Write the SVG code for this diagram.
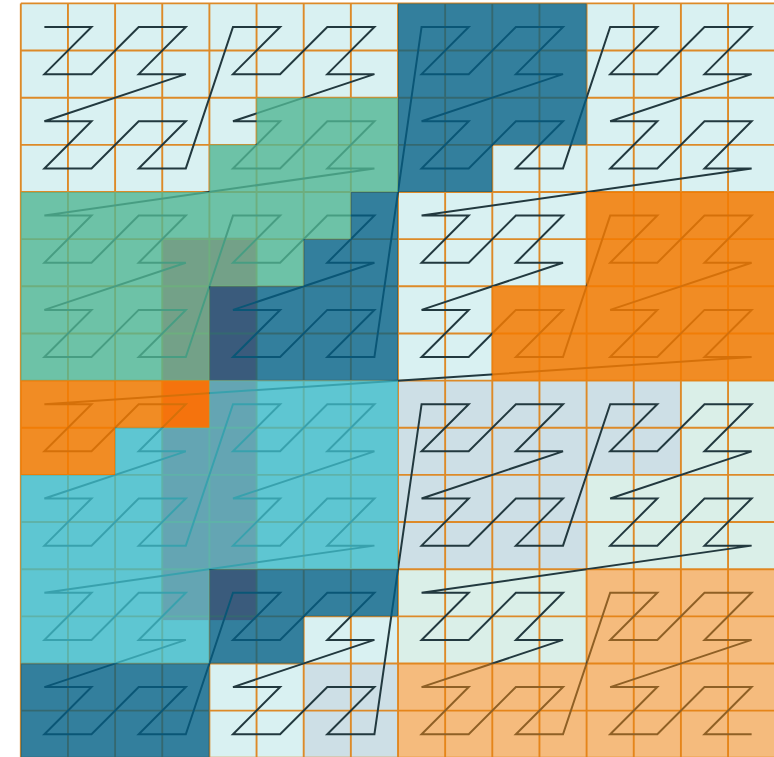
<svg xmlns="http://www.w3.org/2000/svg" width="774" height="757" viewBox="0 0 774 757">
<style>
.gl{fill:none;stroke:#dd8a28;stroke-width:1.9px;vector-effect:non-scaling-stroke}
.zc{fill:none;stroke:#22393f;stroke-width:2px;vector-effect:non-scaling-stroke}
.ov{stroke:none}
</style>
<rect width="774" height="757" fill="#ffffff"/>
<g id="plan" transform="translate(20.8,3.4) scale(47.15)">
<g id="base-ranges">
<rect id="range-light" width="16" height="16" fill="#d9f1f2"/>
<path id="range-grayblue" fill="#cddfe6" d="M6,14H8V16H6Z M8,8H14V10H12V12H8Z"/>
<path id="range-mint" fill="#daefe8" d="M14,8H16V12H12V10H14Z M8,12H12V14H8Z"/>
<path id="range-white" fill="#ffffff" d="M12,12H16V16H8V14H12Z"/>
</g>
<rect id="query" x="3" y="4.97" width="2" height="8.11" fill="#f84e5a"/>
<path id="grid" class="gl" d="M0,0V16M1,0V16M2,0V16M3,0V16M4,0V16M5,0V16M6,0V16M7,0V16M8,0V16M9,0V16M10,0V16M11,0V16M12,0V16M13,0V16M14,0V16M15,0V16M16,0V16M0,0H16M0,1H16M0,2H16M0,3H16M0,4H16M0,5H16M0,6H16M0,7H16M0,8H16M0,9H16M0,10H16M0,11H16M0,12H16M0,13H16M0,14H16M0,15H16M0,16H16"/>
<polyline id="zcurve" class="zc" transform="translate(0.5,0.5)" points="0,0 1,0 0,1 1,1 2,0 3,0 2,1 3,1 0,2 1,2 0,3 1,3 2,2 3,2 2,3 3,3 4,0 5,0 4,1 5,1 6,0 7,0 6,1 7,1 4,2 5,2 4,3 5,3 6,2 7,2 6,3 7,3 0,4 1,4 0,5 1,5 2,4 3,4 2,5 3,5 0,6 1,6 0,7 1,7 2,6 3,6 2,7 3,7 4,4 5,4 4,5 5,5 6,4 7,4 6,5 7,5 4,6 5,6 4,7 5,7 6,6 7,6 6,7 7,7 8,0 9,0 8,1 9,1 10,0 11,0 10,1 11,1 8,2 9,2 8,3 9,3 10,2 11,2 10,3 11,3 12,0 13,0 12,1 13,1 14,0 15,0 14,1 15,1 12,2 13,2 12,3 13,3 14,2 15,2 14,3 15,3 8,4 9,4 8,5 9,5 10,4 11,4 10,5 11,5 8,6 9,6 8,7 9,7 10,6 11,6 10,7 11,7 12,4 13,4 12,5 13,5 14,4 15,4 14,5 15,5 12,6 13,6 12,7 13,7 14,6 15,6 14,7 15,7 0,8 1,8 0,9 1,9 2,8 3,8 2,9 3,9 0,10 1,10 0,11 1,11 2,10 3,10 2,11 3,11 4,8 5,8 4,9 5,9 6,8 7,8 6,9 7,9 4,10 5,10 4,11 5,11 6,10 7,10 6,11 7,11 0,12 1,12 0,13 1,13 2,12 3,12 2,13 3,13 0,14 1,14 0,15 1,15 2,14 3,14 2,15 3,15 4,12 5,12 4,13 5,13 6,12 7,12 6,13 7,13 4,14 5,14 4,15 5,15 6,14 7,14 6,15 7,15 8,8 9,8 8,9 9,9 10,8 11,8 10,9 11,9 8,10 9,10 8,11 9,11 10,10 11,10 10,11 11,11 12,8 13,8 12,9 13,9 14,8 15,8 14,9 15,9 12,10 13,10 12,11 13,11 14,10 15,10 14,11 15,11 8,12 9,12 8,13 9,13 10,12 11,12 10,13 11,13 8,14 9,14 8,15 9,15 10,14 11,14 10,15 11,15 12,12 13,12 12,13 13,13 14,12 15,12 14,13 15,13 12,14 13,14 12,15 13,15 14,14 15,14 14,15 15,15"/>
<g id="overlays" class="ov">
<path id="range-green" fill="#51b793" fill-opacity="0.8" d="M5,2H8V4H7V5H6V6H4V8H0V4H4V3H5Z"/>
<path id="range-blue" fill="#045f85" fill-opacity="0.78" d="M7,4H8V8H4V6H6V5H7Z M8,0H12V3H10V4H8Z"/>
<path id="range-orange" fill="#f47a00" fill-opacity="0.85" d="M12,4H16V8H10V6H12Z M0,8H4V9H2V10H0Z"/>
<path id="range-cyan" fill="#3fbbc9" fill-opacity="0.8" d="M4,8H8V12H4V14H0V10H2V9H4Z"/>
<path id="range-blue2" fill="#045f85" fill-opacity="0.78" d="M0,14H4V16H0Z M4,12H8V13H6V14H4Z"/>
<path id="range-lightorange" fill="#ec810e" fill-opacity="0.54" d="M12,12H16V16H8V14H12Z"/>
</g>
</g>
</svg>
